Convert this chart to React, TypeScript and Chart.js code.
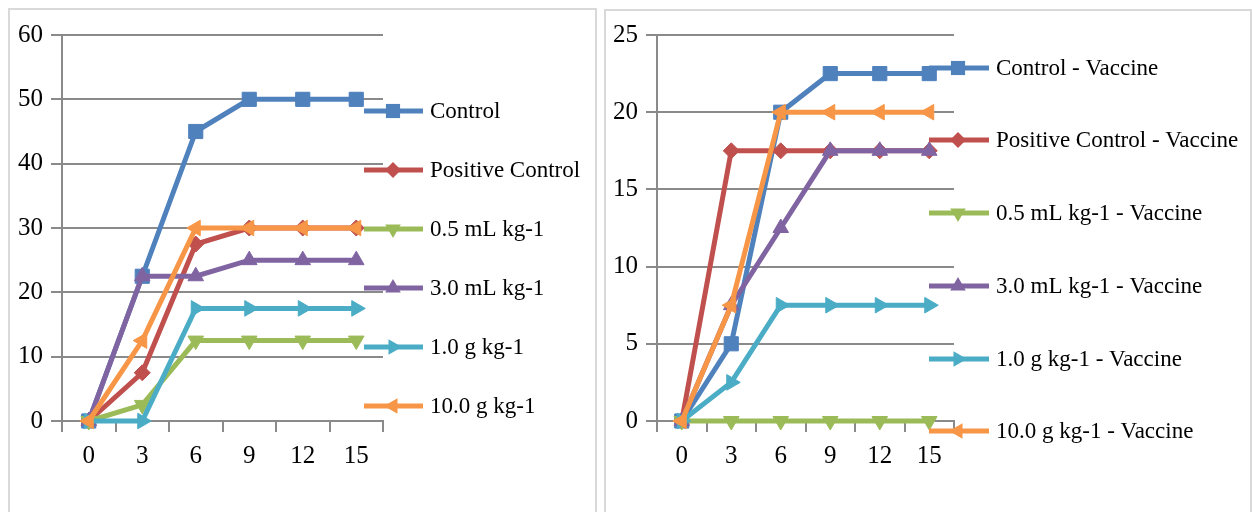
import React, { useEffect, useRef } from 'react';
import { Chart, registerables } from 'chart.js';

Chart.register(...registerables);

// ---------- data ----------
const days = ['0', '3', '6', '9', '12', '15'];

const namesA = ['Control', 'Positive Control', '0.5 mL kg-1', '3.0 mL kg-1', '1.0 g kg-1', '10.0 g kg-1'];
const controlA = [0, 22.5, 45, 50, 50, 50];
const positiveA = [0, 7.5, 27.5, 30, 30, 30];
const ml05A = [0, 2.5, 12.5, 12.5, 12.5, 12.5];
const ml30A = [0, 22.5, 22.5, 25, 25, 25];
const g10A = [0, 0, 17.5, 17.5, 17.5, 17.5];
const g100A = [0, 12.5, 30, 30, 30, 30];

const namesB = [
  'Control - Vaccine',
  'Positive Control - Vaccine',
  '0.5 mL kg-1 - Vaccine',
  '3.0 mL kg-1 - Vaccine',
  '1.0 g kg-1 - Vaccine',
  '10.0 g kg-1 - Vaccine',
];
const controlB = [0, 5, 20, 22.5, 22.5, 22.5];
const positiveB = [0, 17.5, 17.5, 17.5, 17.5, 17.5];
const ml05B = [0, 0, 0, 0, 0, 0];
const ml30B = [0, 7.5, 12.5, 17.5, 17.5, 17.5];
const g10B = [0, 2.5, 7.5, 7.5, 7.5, 7.5];
const g100B = [0, 7.5, 20, 20, 20, 20];

const yMaxA = 60;
const yStepA = 10;
const yMaxB = 25;
const yStepB = 5;

// ---------- styles ----------
const colors = ['#4F81BD', '#C0504D', '#9BBB59', '#8064A2', '#4BACC6', '#F79646'];
const pointStyles = ['rect', 'rectRot', 'triangle', 'triangle', 'triangle', 'triangle'];
const rotations = [0, 0, 180, 0, 90, 270];
const radii = [10, 8, 9, 9, 9, 9];
const GRID = '#8a8a8a';
const FAMILY = "'Liberation Serif', 'Times New Roman', serif";
const TICK_FONT = { family: FAMILY, size: 25 };
const LEGEND_SIZE = 23;

function drawMarker(ctx: CanvasRenderingContext2D, style: string, rot: number, r: number, x: number, y: number) {
  ctx.beginPath();
  if (style === 'rect') {
    const s = Math.SQRT1_2 * r;
    ctx.rect(x - s, y - s, 2 * s, 2 * s);
  } else if (style === 'rectRot') {
    ctx.moveTo(x, y - r);
    ctx.lineTo(x + r, y);
    ctx.lineTo(x, y + r);
    ctx.lineTo(x - r, y);
  } else {
    let rad = (rot * Math.PI) / 180;
    const t = (2 * Math.PI) / 3;
    ctx.moveTo(x + Math.sin(rad) * r, y - Math.cos(rad) * r);
    rad += t;
    ctx.lineTo(x + Math.sin(rad) * r, y - Math.cos(rad) * r);
    rad += t;
    ctx.lineTo(x + Math.sin(rad) * r, y - Math.cos(rad) * r);
  }
  ctx.closePath();
  ctx.fill();
}

interface LegendCfg {
  x1: number;
  x2: number;
  mx: number;
  tx: number;
  ys: number[];
}

function legendPlugin(cfg: LegendCfg) {
  return {
    id: 'sideLegend',
    afterDraw(chart: any) {
      const ctx: CanvasRenderingContext2D = chart.ctx;
      ctx.save();
      chart.data.datasets.forEach((ds: any, i: number) => {
        const y = cfg.ys[i];
        ctx.strokeStyle = colors[i];
        ctx.lineWidth = 5;
        ctx.lineCap = 'butt';
        ctx.beginPath();
        ctx.moveTo(cfg.x1, y);
        ctx.lineTo(cfg.x2, y);
        ctx.stroke();
        ctx.fillStyle = colors[i];
        drawMarker(ctx, pointStyles[i], rotations[i], radii[i], cfg.mx, y);
        ctx.fillStyle = '#000';
        ctx.font = `${LEGEND_SIZE}px ${FAMILY}`;
        ctx.textBaseline = 'middle';
        ctx.textAlign = 'left';
        ctx.fillText(ds.label, cfg.tx, y + 1);
      });
      ctx.restore();
    },
  };
}

function makeConfig(
  names: string[],
  series: number[][],
  yMax: number,
  yStep: number,
  yWidth: number,
  padRight: number,
  legend: LegendCfg
): any {
  return {
    type: 'line',
    data: {
      labels: days,
      datasets: series.map((vals, i) => ({
        label: names[i],
        data: vals,
        borderColor: colors[i],
        backgroundColor: colors[i],
        borderWidth: 5,
        pointStyle: pointStyles[i],
        pointRotation: rotations[i],
        pointRadius: radii[i],
        pointBackgroundColor: colors[i],
        pointBorderColor: colors[i],
        pointBorderWidth: 1,
        tension: 0,
        clip: false,
        order: series.length - i,
      })),
    },
    options: {
      animation: false,
      responsive: false,
      events: [],
      layout: { padding: { left: 0, right: padRight, top: 35, bottom: 0 } },
      plugins: { legend: { display: false }, tooltip: { enabled: false } },
      scales: {
        x: {
          type: 'category',
          offset: true,
          grid: {
            offset: true,
            drawOnChartArea: false,
            drawTicks: true,
            tickLength: 11,
            color: GRID,
            lineWidth: 2,
          },
          border: { display: true, color: GRID, width: 2 },
          ticks: { font: TICK_FONT, color: '#000', padding: 9, maxRotation: 0, autoSkip: false },
          afterFit: (s: any) => {
            s.height = 91;
          },
        },
        y: {
          min: 0,
          max: yMax,
          ticks: { stepSize: yStep, font: TICK_FONT, color: '#000', padding: 8 },
          grid: { color: GRID, lineWidth: 2, tickLength: 11, drawTicks: true },
          border: { display: true, color: GRID, width: 2 },
          afterFit: (s: any) => {
            s.width = yWidth;
          },
        },
      },
    },
    plugins: [legendPlugin(legend)],
  };
}

function ChartCanvas(props: { config: () => any; left: number; width: number }) {
  const ref = useRef<HTMLCanvasElement | null>(null);
  useEffect(() => {
    if (!ref.current) return;
    const chart = new Chart(ref.current, props.config());
    return () => chart.destroy();
  }, []);
  return (
    <canvas
      ref={ref}
      width={props.width}
      height={512}
      style={{ position: 'absolute', left: props.left, top: 0, width: props.width, height: 512 }}
    />
  );
}

export default function App() {
  const cfgA = () =>
    makeConfig(namesA, [controlA, positiveA, ml05A, ml30A, g10A, g100A], yMaxA, yStepA, 62, 600 - 383, {
      x1: 364,
      x2: 423,
      mx: 393,
      tx: 430,
      ys: [111, 170, 229, 288, 347, 406],
    });
  const cfgB = () =>
    makeConfig(namesB, [controlB, positiveB, ml05B, ml30B, g10B, g100B], yMaxB, yStepB, 57, 652 - 354, {
      x1: 329,
      x2: 389,
      mx: 358,
      tx: 396,
      ys: [68, 140, 213, 286, 359, 431],
    });
  return (
    <div style={{ position: 'absolute', left: 0, top: 0, width: 1252, height: 512, overflow: 'hidden', background: '#fff' }}>
      <div
        style={{
          position: 'absolute',
          left: 8,
          top: 8,
          width: 589,
          height: 510,
          boxSizing: 'border-box',
          border: '2px solid #d9d9d9',
        }}
      />
      <div
        style={{
          position: 'absolute',
          left: 604,
          top: 9,
          width: 648,
          height: 510,
          boxSizing: 'border-box',
          border: '2px solid #d9d9d9',
        }}
      />
      <ChartCanvas config={cfgA} left={0} width={600} />
      <ChartCanvas config={cfgB} left={600} width={652} />
    </div>
  );
}
